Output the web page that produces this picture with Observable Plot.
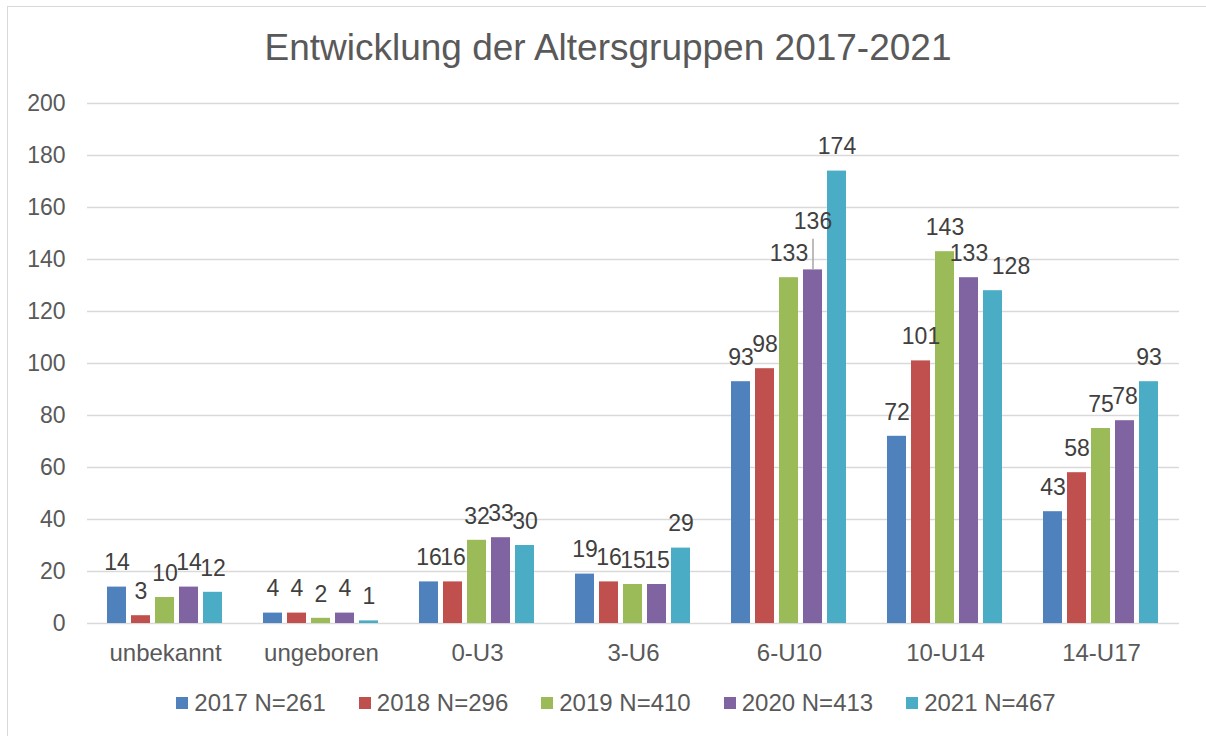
<!DOCTYPE html>
<html>
<head>
<meta charset="utf-8">
<script src="https://cdn.jsdelivr.net/npm/d3@7"></script>
<script src="https://cdn.jsdelivr.net/npm/@observablehq/plot@0.6"></script>
<style>
  body { margin: 0; background: #fff; font-family: "Liberation Sans", Arial, sans-serif; }
  #wrap { position: relative; width: 1206px; height: 736px; overflow: hidden; }
  #frame { position: absolute; left: 7px; top: 6px; width: 1220px; height: 760px; border: 1.5px solid #d9d9d9; box-sizing: border-box; }
  #title { position: absolute; left: 0; width: 1216px; top: 29px; text-align: center; font-size: 37px; line-height: 38px; color: #595959; }
  #chart { position: absolute; left: 0; top: 0; }
  #legend { position: absolute; left: 0; width: 1232px; top: 691px; display: flex; justify-content: center; gap: 33px; font-size: 24px; line-height: 24px; color: #595959; }
  .item { display: flex; align-items: center; }
  .sw { width: 12px; height: 12px; margin-right: 6px; }
</style>
</head>
<body>
<div id="wrap">
  <div id="frame"></div>
  <div id="title">Entwicklung der Altersgruppen 2017-2021</div>
  <div id="chart"></div>
  <div id="legend"></div>
</div>
<script>
const categories = ["unbekannt", "ungeboren", "0-U3", "3-U6", "6-U10", "10-U14", "14-U17"];
const series = ["2017 N=261", "2018 N=296", "2019 N=410", "2020 N=413", "2021 N=467"];
const v2017 = [14, 4, 16, 19, 93, 72, 43];
const v2018 = [3, 4, 16, 16, 98, 101, 58];
const v2019 = [10, 2, 32, 15, 133, 143, 75];
const v2020 = [14, 4, 33, 15, 136, 133, 78];
const v2021 = [12, 1, 30, 29, 174, 128, 93];
const yTicks = [0, 20, 40, 60, 80, 100, 120, 140, 160, 180, 200];
const colors = ["#4F81BD", "#C0504D", "#9BBB59", "#8064A2", "#4BACC6"];

const seriesValues = [v2017, v2018, v2019, v2020, v2021];
const data = [];
categories.forEach((c, i) => {
  series.forEach((s, j) => data.push({cat: c, series: s, value: seriesValues[j][i]}));
});

// layout constants
const W = 1206, H = 736, mL = 85, mR = 26, mT = 103, mB = 113;
const yMax = 200;
const labelSize = 23, labelOffset = 24, labelH = 17;
const ppu = (H - mT - mB) / yMax;                       // pixels per data unit
const facetW = (W - mL - mR) / categories.length;
const pIn = 0.2, pOut = 0.85;
const barStep = facetW / (series.length - pIn + 2 * pOut);

// simple label collision avoidance (like Excel's repositioned labels)
const labels = data.map(d => ({...d, w: String(d.value).length * 0.556 * labelSize, dx: 0, raise: 0, leader: false}));
for (const c of categories) {
  const g = labels.filter(d => d.cat === c);
  for (let j = 1; j < g.length; j++) {
    const a = g[j - 1], b = g[j];
    const ya = a.value * ppu + a.raise, yb = b.value * ppu + b.raise;
    const overlapH = (a.w + b.w) / 2 - (barStep + b.dx - a.dx);
    if (overlapH > 8 && Math.abs(ya - yb) < labelH) {
      if (b.value > a.value) {
        b.raise = ya + labelH + 15 - b.value * ppu;
        b.leader = true;
      } else {
        b.dx = Math.round(overlapH + 4);
      }
    }
  }
}
const leaders = labels.filter(d => d.leader);
const dxGroups = d3.groups(labels, d => d.dx);

const font = '"Liberation Sans", Arial, sans-serif';
const chart = Plot.plot({
  width: W,
  height: H,
  marginLeft: mL,
  marginRight: mR,
  marginTop: mT,
  marginBottom: mB,
  style: {fontFamily: font, color: "#595959", background: "transparent", overflow: "visible"},
  fx: {domain: categories, padding: 0, label: null},
  x: {domain: series, paddingInner: pIn, paddingOuter: pOut, axis: null},
  y: {domain: [0, yMax], label: null},
  color: {domain: series, range: colors},
  marks: [
    Plot.gridY(yTicks, {stroke: "#d9d9d9", strokeOpacity: 1, strokeWidth: 1.5}),
    Plot.axisY(yTicks, {tickSize: 0, tickPadding: 22, fontSize: 23, fill: "#595959", label: null}),
    Plot.axisFx({anchor: "bottom", tickSize: 0, tickPadding: 20, fontSize: 24, fill: "#595959", label: null}),
    Plot.barY(data, {fx: "cat", x: "series", y: "value", fill: "series"}),
    Plot.ruleX(leaders, {
      fx: "cat", x: "series",
      y1: "value",
      y2: d => d.value + (d.raise + labelOffset - labelH / 2 - 9) / ppu,
      stroke: "#a6a6a6", strokeWidth: 1.5
    }),
    ...dxGroups.map(([dx, rows]) => Plot.text(rows, {
      fx: "cat", x: "series",
      y: d => d.value + d.raise / ppu,
      text: d => String(d.value),
      dx, dy: -labelOffset,
      fontSize: labelSize, fill: "#404040"
    }))
  ]
});
document.getElementById("chart").appendChild(chart);

const legend = document.getElementById("legend");
series.forEach((s, j) => {
  const it = document.createElement("div");
  it.className = "item";
  const sw = document.createElement("div");
  sw.className = "sw";
  sw.style.background = colors[j];
  const tx = document.createElement("span");
  tx.textContent = s;
  it.appendChild(sw);
  it.appendChild(tx);
  legend.appendChild(it);
});
</script>
</body>
</html>
